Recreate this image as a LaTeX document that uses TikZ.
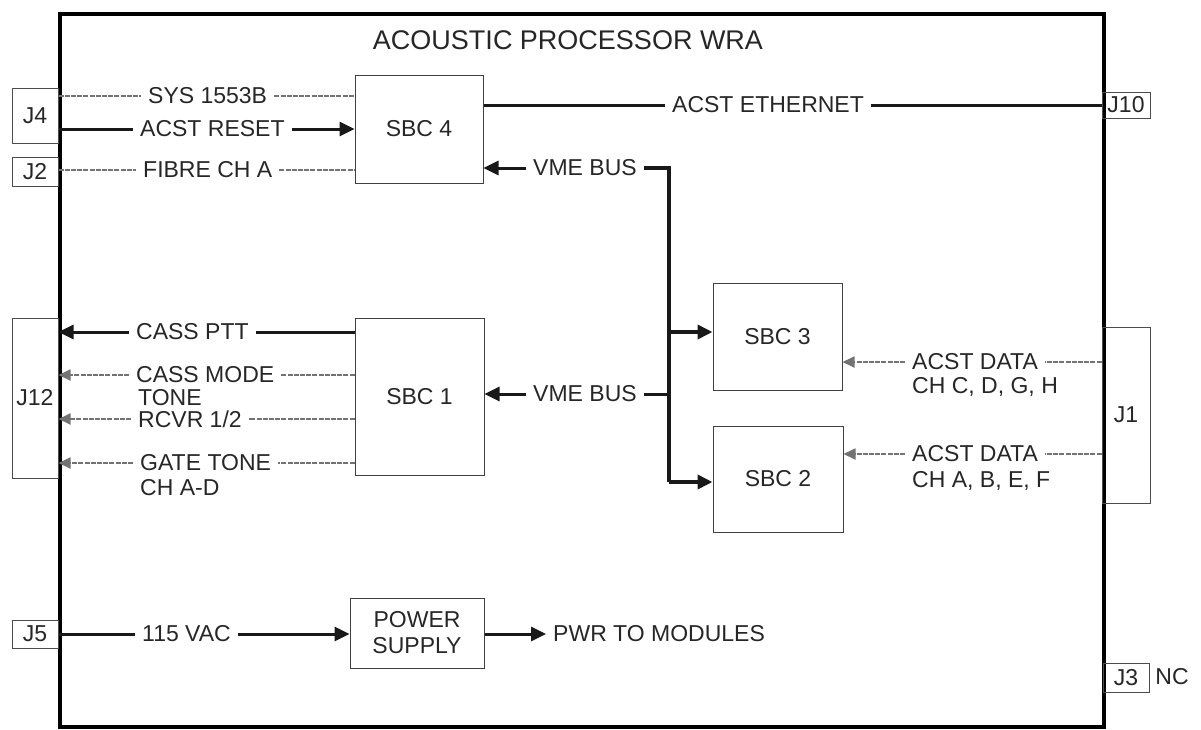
\documentclass[tikz,border=0pt]{standalone}
\usepackage{fontspec}
\setmainfont{Liberation Sans}
\usetikzlibrary{arrows.meta}
\begin{document}
\begin{tikzpicture}[x=1pt,y=-1pt,
  every node/.style={font=\fontsize{23}{26}\selectfont, text=black!85},
  lbl/.style={anchor=west, inner xsep=7pt, inner ysep=0pt},
  blk/.style={draw=black!75, line width=1pt, inner sep=0pt, align=center},
  conn/.style={draw=black!70, line width=1pt, inner sep=0pt},
  sline/.style={line width=3pt, draw=black!90},
  bline/.style={line width=3.6pt, draw=black!90},
  gline/.style={line width=1.8pt, draw=black!55, dash pattern=on 5pt off 1.2pt},
  sarr/.style={-{Triangle[length=15pt,width=14pt]}},
  garr/.style={-{Triangle[length=12pt,width=11pt]}},
]
\useasboundingbox (0,0) rectangle (1201,729);

% main frame
\node[draw=black, line width=3.6pt, inner sep=0pt, minimum width=1044pt, minimum height=713pt, anchor=north west] (frame) at (58,12) {};
\node[font=\fontsize{27}{30}\selectfont] (title) at (568,40) {ACOUSTIC PROCESSOR WRA};

% blocks
\node[blk, minimum width=128pt, minimum height=108pt] (SBC4) at (419,129) {SBC 4};
\node[blk, minimum width=129pt, minimum height=157pt] (SBC1) at (419.5,396.5) {SBC 1};
\node[blk, minimum width=129pt, minimum height=107pt] (SBC3) at (777.5,336.5) {SBC 3};
\node[blk, minimum width=130pt, minimum height=106pt] (SBC2) at (778,479) {SBC 2};
\node[blk, minimum width=134pt, minimum height=70pt] (PS) at (417,633) {POWER\\SUPPLY};

% connectors
\node[conn, minimum width=46pt, minimum height=55pt] (J4) at (35,115.5) {J4};
\node[conn, minimum width=46pt, minimum height=29pt] (J2) at (35,171.5) {J2};
\node[conn, minimum width=46pt, minimum height=160pt] (J12) at (35,398) {J12};
\node[conn, minimum width=46pt, minimum height=28pt] (J5) at (35,634) {J5};
\node[conn, minimum width=48pt, minimum height=26pt] (J10) at (1126,105) {J10};
\node[conn, minimum width=48pt, minimum height=176pt] (J1) at (1126,415) {J1};
\node[conn, minimum width=46pt, minimum height=29pt] (J3) at (1126,677.5) {J3};
\node (nc) at (1172,677) {NC};

% labels
\node[lbl] (sys) at (141,96) {SYS 1553B};
\node[lbl] (rst) at (133,129) {ACST RESET};
\node[lbl] (fib) at (136,170) {FIBRE CH A};
\node[lbl] (eth) at (665,105) {ACST ETHERNET};
\node[lbl] (vme1) at (526,168) {VME BUS};
\node[lbl] (vme2) at (526,394) {VME BUS};
\node[lbl] (ptt) at (129,332) {CASS PTT};
\node[lbl] (cm) at (129,375) {CASS MODE};
\node[lbl] (cm2) at (131,398) {TONE};
\node[lbl] (rcv) at (131,419) {RCVR 1/2};
\node[lbl] (gt) at (133,463) {GATE TONE};
\node[lbl] (gt2) at (133,488) {CH A-D};
\node[lbl] (ad1) at (905,362) {ACST DATA};
\node[lbl] (ad1b) at (905,387) {CH C, D, G, H};
\node[lbl] (ad2) at (905,454) {ACST DATA};
\node[lbl] (ad2b) at (905,481) {CH A, B, E, F};
\node[lbl] (vac) at (135,634) {115 VAC};
\node[lbl] (pwr) at (546,634) {PWR TO MODULES};

% SBC 4 signals
\draw[gline] (J4.east |- sys) -- (sys);
\draw[gline] (sys) -- (sys -| SBC4.west);
\draw[sline] (J4.east |- rst) -- (rst);
\draw[sline,sarr] (rst) -- (rst -| SBC4.west);
\draw[gline] (J2.east |- fib) -- (fib);
\draw[gline] (fib) -- (fib -| SBC4.west);
\draw[sline] (SBC4.east |- eth) -- (eth);
\draw[sline] (eth) -- (J10.west);

% VME bus
\coordinate (bt) at (669,168);
\coordinate (b3) at (669,332);
\coordinate (bb) at (669,482);
\draw[sline,sarr] (vme1) -- (vme1 -| SBC4.east);
\draw[sline,sarr] (vme2) -- (vme2 -| SBC1.east);
\draw[bline] (vme1) -- (bt) -- (bb);
\draw[sline] (vme2) -- (vme2 -| bt);
\draw[bline,sarr] (b3) -- (b3 -| SBC3.west);
\draw[bline,sarr] (bb) -- (bb -| SBC2.west);

% SBC 1 signals
\draw[sline] (SBC1.west |- ptt) -- (ptt);
\draw[sline,sarr] (ptt) -- (ptt -| J12.east);
\draw[gline] (SBC1.west |- cm) -- (cm);
\draw[gline,garr] (cm) -- (cm -| J12.east);
\draw[gline] (SBC1.west |- rcv) -- (rcv);
\draw[gline,garr] (rcv) -- (rcv -| J12.east);
\draw[gline] (SBC1.west |- gt) -- (gt);
\draw[gline,garr] (gt) -- (gt -| J12.east);

% ACST data
\draw[gline] (J1.west |- ad1) -- (ad1);
\draw[gline,garr] (ad1) -- (ad1 -| SBC3.east);
\draw[gline] (J1.west |- ad2) -- (ad2);
\draw[gline,garr] (ad2) -- (ad2 -| SBC2.east);

% power
\draw[sline] (J5.east) -- (vac);
\draw[sline,sarr] (vac) -- (vac -| PS.west);
\draw[sline,sarr] (PS.east |- pwr) -- (pwr);
\end{tikzpicture}
\end{document}
